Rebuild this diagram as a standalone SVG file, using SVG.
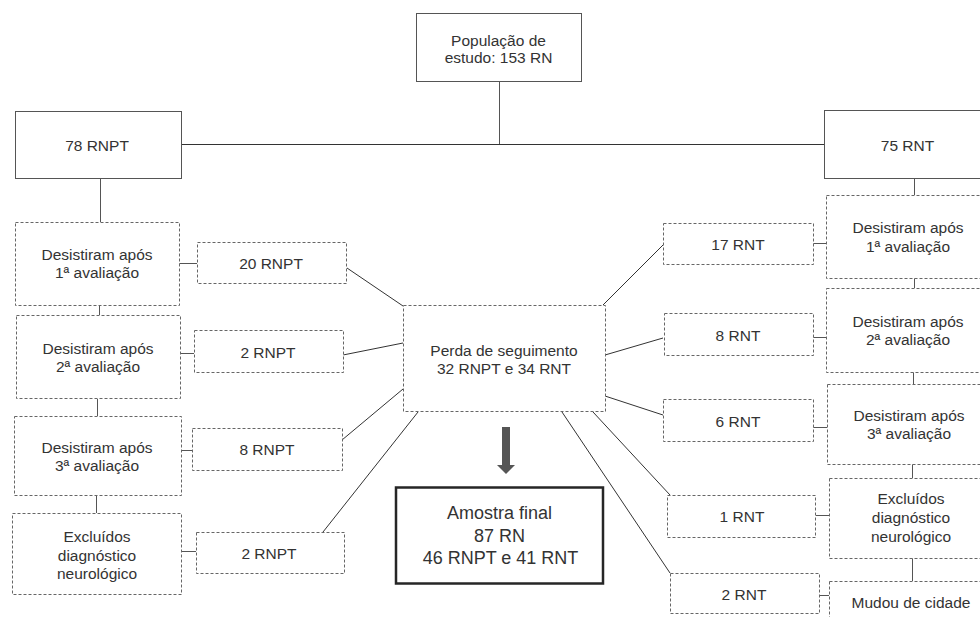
<svg xmlns="http://www.w3.org/2000/svg" width="980" height="617" viewBox="0 0 980 617">
<style>
text{font-family:"Liberation Sans",Arial,sans-serif;font-size:15.5px;fill:#333;text-anchor:middle}
.solid{fill:#fff;stroke:#555;stroke-width:1}
.dash{fill:#fff;stroke:#666;stroke-width:1;stroke-dasharray:3 2}
.final{fill:#fff;stroke:#262626;stroke-width:2.5}
.big{font-size:18px}
#connectors line{stroke:#555;stroke-width:1}
#connectors .dark{stroke:#333}
</style>
<rect width="980" height="617" fill="#fff"/>
<g id="connectors">
<line x1="499.5" y1="82" x2="499.5" y2="144.5"/>
<line class="dark" x1="182" y1="144.5" x2="824" y2="144.5"/>
<line x1="100.5" y1="179" x2="100.5" y2="222"/>
<line x1="99.5" y1="306" x2="99.5" y2="315"/>
<line x1="97.5" y1="399" x2="97.5" y2="416"/>
<line x1="96.5" y1="496" x2="96.5" y2="513"/>
<line x1="179" y1="263.5" x2="197" y2="263.5"/>
<line x1="180" y1="353.5" x2="194" y2="353.5"/>
<line x1="182" y1="450.5" x2="192" y2="450.5"/>
<line x1="182" y1="551.5" x2="196" y2="551.5"/>
<line x1="914.5" y1="179" x2="914.5" y2="195"/>
<line x1="914.5" y1="278" x2="914.5" y2="288"/>
<line x1="913.5" y1="372" x2="913.5" y2="384"/>
<line x1="912.5" y1="464" x2="912.5" y2="478"/>
<line x1="912.5" y1="558" x2="912.5" y2="581"/>
<line x1="813" y1="243.5" x2="826" y2="243.5"/>
<line x1="813" y1="337.5" x2="826" y2="337.5"/>
<line x1="813" y1="427.5" x2="827" y2="427.5"/>
<line x1="816" y1="515.5" x2="829" y2="515.5"/>
<line x1="820" y1="595.5" x2="829" y2="595.5"/>
<line class="dark" x1="347" y1="268" x2="403" y2="306"/>
<line class="dark" x1="343" y1="355" x2="403" y2="343"/>
<line class="dark" x1="342" y1="440" x2="403" y2="389"/>
<line class="dark" x1="323" y1="532" x2="418" y2="412"/>
<line class="dark" x1="663" y1="245" x2="603" y2="305"/>
<line class="dark" x1="663" y1="338" x2="605" y2="355"/>
<line class="dark" x1="663" y1="415" x2="605" y2="396"/>
<line class="dark" x1="670" y1="495" x2="593" y2="412"/>
<line class="dark" x1="670" y1="573" x2="562" y2="412"/>
<rect x="502" y="427" width="8" height="39" fill="#555"/>
<polygon points="497,465 515,465 506,474" fill="#555"/>
</g>
<g id="pop"><rect class="solid" x="416.5" y="13.5" width="165" height="68"/><text x="498.5" y="46">População de</text><text x="498.5" y="63">estudo: 153 RN</text></g>
<g id="rnpt"><rect class="solid" x="15.5" y="111.5" width="166" height="67"/><text x="97" y="151">78 RNPT</text></g>
<g id="rnt"><rect class="solid" x="824.5" y="110.5" width="167" height="68"/><text x="907.5" y="151">75 RNT</text></g>
<g id="l1"><rect class="dash" x="15.5" y="222.5" width="164" height="83"/><text x="97" y="260">Desistiram após</text><text x="97" y="278">1ª avaliação</text></g>
<g id="l2"><rect class="dash" x="16.5" y="315.5" width="164" height="83"/><text x="98" y="354">Desistiram após</text><text x="98" y="372">2ª avaliação</text></g>
<g id="l3"><rect class="dash" x="14.5" y="416.5" width="167" height="79"/><text x="97" y="453">Desistiram após</text><text x="97" y="471">3ª avaliação</text></g>
<g id="l4"><rect class="dash" x="12.5" y="513.5" width="169" height="81"/><text x="97" y="542">Excluídos</text><text x="97" y="560.5">diagnóstico</text><text x="97" y="579">neurológico</text></g>
<g id="l1n"><rect class="dash" x="197.5" y="242.5" width="149" height="41"/><text x="271" y="269">20 RNPT</text></g>
<g id="l2n"><rect class="dash" x="194.5" y="330.5" width="149" height="42"/><text x="268" y="358">2 RNPT</text></g>
<g id="l3n"><rect class="dash" x="192.5" y="428.5" width="150" height="42"/><text x="267" y="455">8 RNPT</text></g>
<g id="l4n"><rect class="dash" x="196.5" y="532.5" width="148" height="41"/><text x="269" y="559">2 RNPT</text></g>
<g id="perda"><rect class="dash" x="403.5" y="305.5" width="202" height="106"/><text x="504" y="356">Perda de seguimento</text><text x="504" y="374">32 RNPT e 34 RNT</text></g>
<g id="final"><rect class="final" x="396" y="487.5" width="207" height="96"/><text class="big" x="499.5" y="519">Amostra final</text><text class="big" x="499.5" y="542">87 RN</text><text class="big" x="500.5" y="564">46 RNPT e 41 RNT</text></g>
<g id="r1n"><rect class="dash" x="663.5" y="223.5" width="150" height="41"/><text x="738" y="250">17 RNT</text></g>
<g id="r2n"><rect class="dash" x="664.5" y="313.5" width="149" height="42"/><text x="738" y="341">8 RNT</text></g>
<g id="r3n"><rect class="dash" x="663.5" y="399.5" width="150" height="42"/><text x="738" y="427">6 RNT</text></g>
<g id="r4n"><rect class="dash" x="667.5" y="495.5" width="148" height="42"/><text x="742" y="522">1 RNT</text></g>
<g id="r5n"><rect class="dash" x="670.5" y="573.5" width="149" height="40"/><text x="744" y="600">2 RNT</text></g>
<g id="r1"><rect class="dash" x="826.5" y="195.5" width="164" height="83"/><text x="908" y="233">Desistiram após</text><text x="908" y="252">1ª avaliação</text></g>
<g id="r2"><rect class="dash" x="826.5" y="288.5" width="164" height="84"/><text x="908" y="327">Desistiram após</text><text x="908" y="345">2ª avaliação</text></g>
<g id="r3"><rect class="dash" x="827.5" y="384.5" width="164" height="80"/><text x="909" y="421">Desistiram após</text><text x="909" y="439">3ª avaliação</text></g>
<g id="r4"><rect class="dash" x="829.5" y="478.5" width="164" height="80"/><text x="911" y="504">Excluídos</text><text x="911" y="523">diagnóstico</text><text x="911" y="542">neurológico</text></g>
<g id="r5"><rect class="dash" x="829.5" y="581.5" width="164" height="50"/><text x="911" y="608">Mudou de cidade</text></g>
</svg>
